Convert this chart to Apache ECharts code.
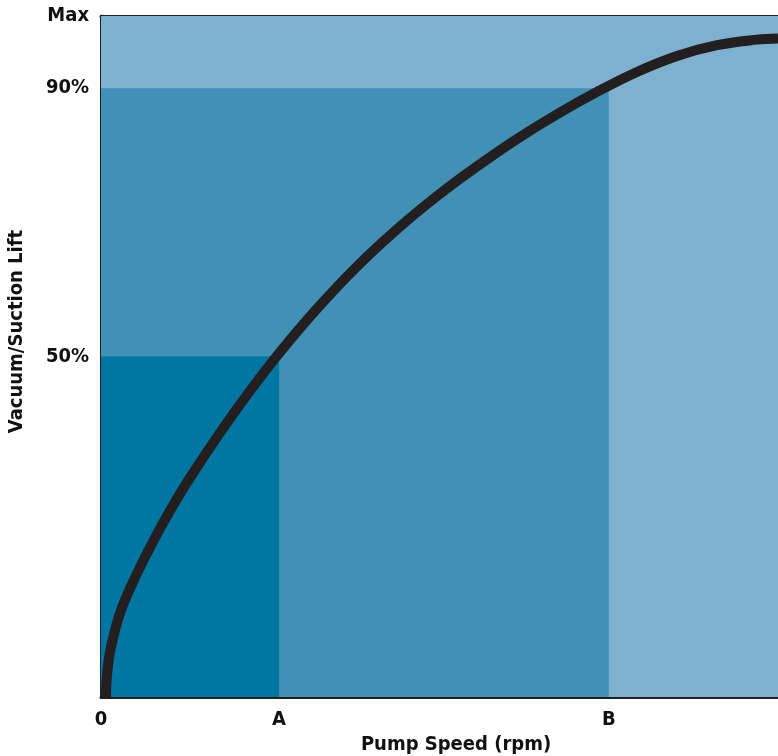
<!DOCTYPE html>
<html>
<head>
<meta charset="utf-8">
<script src="https://cdn.jsdelivr.net/npm/echarts@6/dist/echarts.min.js"></script>
<style>
html,body{margin:0;padding:0;background:#fff;}
#main{width:778px;height:756px;}
</style>
</head>
<body>
<div id="main"></div>
<script>
// Tick positions and labels
const xTickValues = [0, 26.3, 75];
const xTickLabels = ['0', 'A', 'B'];
const yTickValues = [50, 89.4, 100];
const yTickLabels = ['50%', '90%', 'Max'];

// Zones: [x0, x1, y0, y1]
const zoneBounds = [
  [0, 100, 0, 100],
  [0, 75, 0, 89.4],
  [0, 26.3, 0, 50]
];

// Curve: pump speed (% of axis) vs vacuum/suction lift (% of max)
const speed = [0.74, 0.83, 1.08, 1.48, 2.81, 5.02, 7.83, 10.49, 13.0, 17.58, 21.71, 26.0, 31.91, 37.81, 43.72, 49.63, 55.54, 61.45, 67.36, 73.26, 79.17, 85.08, 90.99, 96.90, 100];
const lift  = [0, 2.50, 4.99, 7.34, 12.33, 17.51, 23.09, 27.85, 31.97, 38.80, 44.55, 50.10, 57.02, 63.22, 68.69, 73.55, 77.91, 81.94, 85.57, 88.85, 91.78, 94.13, 95.71, 96.53, 96.71];

const zoneColors = ['#7db1cf', '#4191b7', '#0077a3'];
const FONT = '"Liberation Sans Narrow", "DejaVu Sans Condensed", Arial, sans-serif';

const chart = echarts.init(document.getElementById('main'), null, {renderer: 'canvas'});

const curveData = speed.map((s, i) => [s, lift[i]]);

chart.setOption({
  animation: false,
  backgroundColor: '#ffffff',
  grid: {left: 101, right: 0, top: 16, bottom: 59, containLabel: false, outerBoundsMode: 'none'},
  xAxis: [{
    type: 'value', min: 0, max: 100,
    name: 'Pump Speed (rpm)', nameLocation: 'middle', nameGap: 33,
    nameTextStyle: {fontFamily: FONT, fontWeight: 'bold', fontSize: 20, color: '#111', padding: [0, 0, 0, 33]},
    axisLine: {show: true, lineStyle: {color: '#231f20', width: 3}},
    axisTick: {show: false},
    splitLine: {show: false},
    axisLabel: {
      customValues: xTickValues,
      formatter: v => { const i = xTickValues.indexOf(v); return i >= 0 ? xTickLabels[i] : ''; },
      fontFamily: FONT, fontWeight: 'bold', fontSize: 20, color: '#111', margin: 13
    }
  }, {
    type: 'value', min: 0, max: 100, position: 'top',
    axisLine: {show: true, lineStyle: {color: '#231f20', width: 3}},
    axisTick: {show: false}, axisLabel: {show: false}, splitLine: {show: false}
  }],
  yAxis: {
    type: 'value', min: 0, max: 100,
    name: 'Vacuum/Suction Lift', nameLocation: 'middle', nameGap: 74, nameRotate: 90,
    nameTextStyle: {fontFamily: FONT, fontWeight: 'bold', fontSize: 20, color: '#111', padding: [0, 0, 0, 50]},
    axisLine: {show: true, lineStyle: {color: '#231f20', width: 3}},
    axisTick: {show: false},
    splitLine: {show: false},
    axisLabel: {
      customValues: yTickValues,
      formatter: v => { const i = yTickValues.indexOf(v); return i >= 0 ? yTickLabels[i] : ''; },
      fontFamily: FONT, fontWeight: 'bold', fontSize: 20, color: '#111', margin: 12
    }
  },
  series: [{
    type: 'custom',
    silent: true,
    clip: true,
    data: zoneBounds.map((b, i) => [b[0], b[1], b[2], b[3], i]),
    renderItem: function (params, api) {
      const p0 = api.coord([api.value(0), api.value(2)]);
      const p1 = api.coord([api.value(1), api.value(3)]);
      return {
        type: 'rect',
        shape: {x: p0[0], y: p1[1], width: p1[0] - p0[0], height: p0[1] - p1[1]},
        style: {fill: zoneColors[api.value(4)]}
      };
    },
    z: 1
  }, {
    type: 'line',
    data: curveData,
    smooth: 0.4,
    showSymbol: false,
    clip: true,
    lineStyle: {color: '#231f20', width: 10, cap: 'butt'},
    z: 2
  }]
});
</script>
</body>
</html>
